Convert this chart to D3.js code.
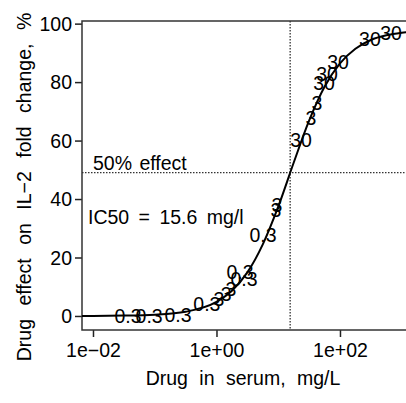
<!DOCTYPE html>
<html>
<head>
<meta charset="utf-8">
<script src="https://cdn.jsdelivr.net/npm/d3@7"></script>
<style>
  body { margin: 0; background: #fff; }
  svg text { font-family: "Liberation Sans", "Helvetica", sans-serif; font-size: 19.5px; fill: #000; }
</style>
</head>
<body>
<div id="chart"></div>
<script>
// observed drug concentrations (mg/L), effect (%) and dose group label of each point
const doseLabels = ["0.3", "0.3", "0.3", "0.3", "3", "3", "3", "0.3", "0.3", "0.3", "3", "3",
                    "30", "3", "3", "30", "30", "30", "30", "30"];
const conc = [0.037, 0.081, 0.238, 0.70, 1.10, 1.43, 1.72, 2.40, 2.79, 5.66, 9.55, 9.20,
              23.4, 33.9, 42.4, 55.1, 61.6, 92.9, 306, 670];
const effect = [0, 0, 0.3, 4.1, 5.8, 7.5, 9.2, 15.0, 12.6, 27.7, 37.9, 36.2,
                60.2, 67.7, 72.8, 79.7, 82.7, 86.8, 94.7, 96.8];

// fitted curve (log10 concentration, effect %)
const curveLog = [-2.2, -2, -1.5, -1, -0.5, 0, 0.25, 0.5, 0.75, 1, 1.25, 1.5, 1.75, 2, 2.25, 2.5, 2.75, 3, 3.25];
const curveEffect = [0.02, 0.03, 0.12, 0.42, 1.43, 4.8, 8.6, 14.9, 24.5, 37.4, 52.4, 66.8, 78.4, 86.4, 91.4, 94.4, 96.0, 96.9, 97.4];

const ic50 = 15.6;
const halfEffect = 49;
const xTicks = [0.01, 1, 100];
const xTickLabels = ["1e\u221202", "1e+00", "1e+02"];
const yTicks = [0, 20, 40, 60, 80, 100];

const width = 406, height = 403;
const mLeft = 82, mTop = 21, mBottom = 330, mRight = 420;

const svg = d3.select("#chart").append("svg")
    .attr("width", width)
    .attr("height", height);

const x = d3.scaleLog()
    .domain([Math.pow(10, -2.178), Math.pow(10, 3.296)])
    .range([mLeft, mRight]);
const y = d3.scaleLinear()
    .domain([-4.8, 100.9])
    .range([mBottom, mTop]);

svg.append("clipPath").attr("id", "clip")
  .append("rect")
    .attr("x", mLeft).attr("y", mTop)
    .attr("width", mRight - mLeft).attr("height", mBottom - mTop);

// axes
const xAxis = svg.append("g")
    .attr("transform", `translate(0,${mBottom})`)
    .call(d3.axisBottom(x).tickValues(xTicks).tickFormat((d, i) => xTickLabels[i]).tickSize(7).tickSizeOuter(0));
const yAxis = svg.append("g")
    .attr("transform", `translate(${mLeft},0)`)
    .call(d3.axisLeft(y).tickValues(yTicks).tickSize(7).tickSizeOuter(0));

xAxis.select(".domain").remove();
yAxis.select(".domain").remove();
xAxis.selectAll("line").attr("stroke", "#222").attr("stroke-width", 1.5);
yAxis.selectAll("line").attr("stroke", "#222").attr("stroke-width", 1.5);
xAxis.selectAll("text").attr("font-size", null).attr("font-family", null).attr("dy", null).attr("y", 27);
yAxis.selectAll("text").attr("font-size", null).attr("font-family", null).attr("x", -10).attr("dy", "0.35em");

// box
svg.append("rect")
    .attr("x", mLeft).attr("y", mTop)
    .attr("width", mRight - mLeft).attr("height", mBottom - mTop)
    .attr("fill", "none")
    .attr("stroke", "#333")
    .attr("stroke-width", 1.5);

const plot = svg.append("g").attr("clip-path", "url(#clip)");

// reference lines
plot.append("line")
    .attr("x1", mLeft).attr("x2", mRight)
    .attr("y1", y(halfEffect)).attr("y2", y(halfEffect))
    .attr("stroke", "#333").attr("stroke-width", 1.3).attr("stroke-dasharray", "1.5,1.5");
plot.append("line")
    .attr("x1", x(ic50)).attr("x2", x(ic50))
    .attr("y1", mTop).attr("y2", mBottom)
    .attr("stroke", "#333").attr("stroke-width", 1.3).attr("stroke-dasharray", "1.5,1.5");

// curve
const line = d3.line()
    .x((d, i) => x(Math.pow(10, curveLog[i])))
    .y(d => y(d))
    .curve(d3.curveMonotoneX);
plot.append("path")
    .datum(curveEffect)
    .attr("d", line)
    .attr("fill", "none")
    .attr("stroke", "#000")
    .attr("stroke-width", 2);

// points drawn as dose labels
plot.selectAll("text.pt")
    .data(conc)
    .enter().append("text")
    .attr("class", "pt")
    .attr("x", d => x(d))
    .attr("y", (d, i) => y(effect[i]))
    .attr("dy", "0.36em")
    .attr("text-anchor", "middle")
    .text((d, i) => doseLabels[i]);

// annotations
svg.append("text")
    .attr("x", 93).attr("y", 170)
    .attr("word-spacing", 2)
    .text("50% effect");
svg.append("text")
    .attr("x", 88).attr("y", 224)
    .attr("word-spacing", 4)
    .text(`IC50 = ${ic50} mg/l`);

// axis titles
svg.append("text")
    .attr("x", 243).attr("y", 385)
    .attr("text-anchor", "middle")
    .attr("word-spacing", 6)
    .text("Drug in serum, mg/L");
svg.append("text")
    .attr("transform", "translate(31,187) rotate(-90)")
    .attr("text-anchor", "middle")
    .attr("word-spacing", 8)
    .text("Drug effect on IL\u22122 fold change, %");
</script>
</body>
</html>
